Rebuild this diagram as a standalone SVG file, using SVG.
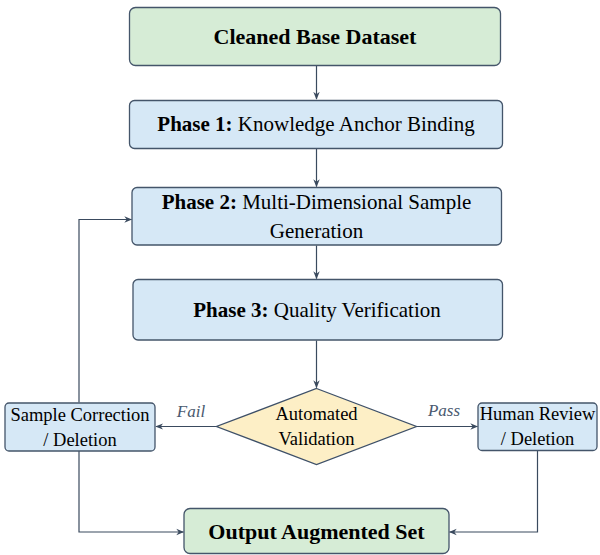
<svg xmlns="http://www.w3.org/2000/svg" width="600" height="555" viewBox="0 0 600 555">
<style>
.g{fill:#d6ecd6;stroke:#44556a;stroke-width:1.3}
.b{fill:#d6e8f6;stroke:#44556a;stroke-width:1.3}
.d{fill:#fdefc6;stroke:#3e5068;stroke-width:1.3}
.t{font-family:"Liberation Serif","Times New Roman",serif;fill:#000;text-anchor:middle}
.big{font-size:22px;font-weight:bold}
.ph{font-size:21px}
.sm{font-size:18.5px}
.lab{font-family:"Liberation Serif","Times New Roman",serif;font-size:17px;font-style:italic;fill:#4a5a70;text-anchor:middle}
.c{fill:none;stroke:#3a4a5e;stroke-width:1.2;marker-end:url(#ah)}
</style>
<defs>
<marker id="ah" viewBox="0 0 10 10" refX="9" refY="5" markerWidth="8" markerHeight="8" markerUnits="userSpaceOnUse" orient="auto">
<path d="M0,1 L10,5 L0,9 L3,5 z" fill="#3a4a5e"/>
</marker>
</defs>
<g id="connectors">
<path class="c" d="M316.5,66 V99"/>
<path class="c" d="M316.5,148.5 V186.5"/>
<path class="c" d="M316.5,245.5 V278.5"/>
<path class="c" d="M316.5,340.5 V387.5"/>
<path class="c" d="M216.5,426.5 H156"/>
<path class="c" d="M416.5,426.5 H477.5"/>
<path class="c" d="M79,402.5 V219.5 H131.5"/>
<path class="c" d="M79,451 V532 H183.5"/>
<path class="c" d="M537.5,450.5 V532 H449.5"/>
</g>
<g id="node-cleaned">
<rect class="g" x="129.5" y="7.5" width="371" height="58" rx="6"/>
<text class="t big" x="315" y="44">Cleaned Base Dataset</text>
</g>
<g id="node-phase1">
<rect class="b" x="129.5" y="100.5" width="373" height="48" rx="5"/>
<text class="t ph" x="316" y="131"><tspan font-weight="bold">Phase 1:</tspan> Knowledge Anchor Binding</text>
</g>
<g id="node-phase2">
<rect class="b" x="132" y="187.5" width="369.5" height="57.5" rx="5"/>
<text class="t ph" x="316.5" y="209"><tspan font-weight="bold">Phase 2:</tspan> Multi-Dimensional Sample</text>
<text class="t ph" x="316.5" y="238">Generation</text>
</g>
<g id="node-phase3">
<rect class="b" x="133" y="279.5" width="369.5" height="60.5" rx="5"/>
<text class="t ph" x="317" y="317"><tspan font-weight="bold">Phase 3:</tspan> Quality Verification</text>
</g>
<g id="node-validation">
<polygon class="d" points="316.5,388.5 416.5,426.5 316.5,464.5 216.5,426.5"/>
<text class="t sm" x="316.5" y="420">Automated</text>
<text class="t sm" x="316.5" y="445">Validation</text>
</g>
<g id="node-correction">
<rect class="b" x="5" y="403" width="150" height="48" rx="4"/>
<text class="t sm" x="80" y="421">Sample Correction</text>
<text class="t sm" x="80" y="446">/ Deletion</text>
</g>
<g id="node-human">
<rect class="b" x="478" y="403" width="119" height="47.5" rx="4"/>
<text class="t sm" x="537.5" y="420">Human Review</text>
<text class="t sm" x="537.5" y="445">/ Deletion</text>
</g>
<g id="node-output">
<rect class="g" x="184" y="508.5" width="265" height="45" rx="6"/>
<text class="t big" x="316.5" y="539">Output Augmented Set</text>
</g>
<g id="labels">
<text class="lab" x="191" y="417">Fail</text>
<text class="lab" x="444" y="416">Pass</text>
</g>
</svg>
